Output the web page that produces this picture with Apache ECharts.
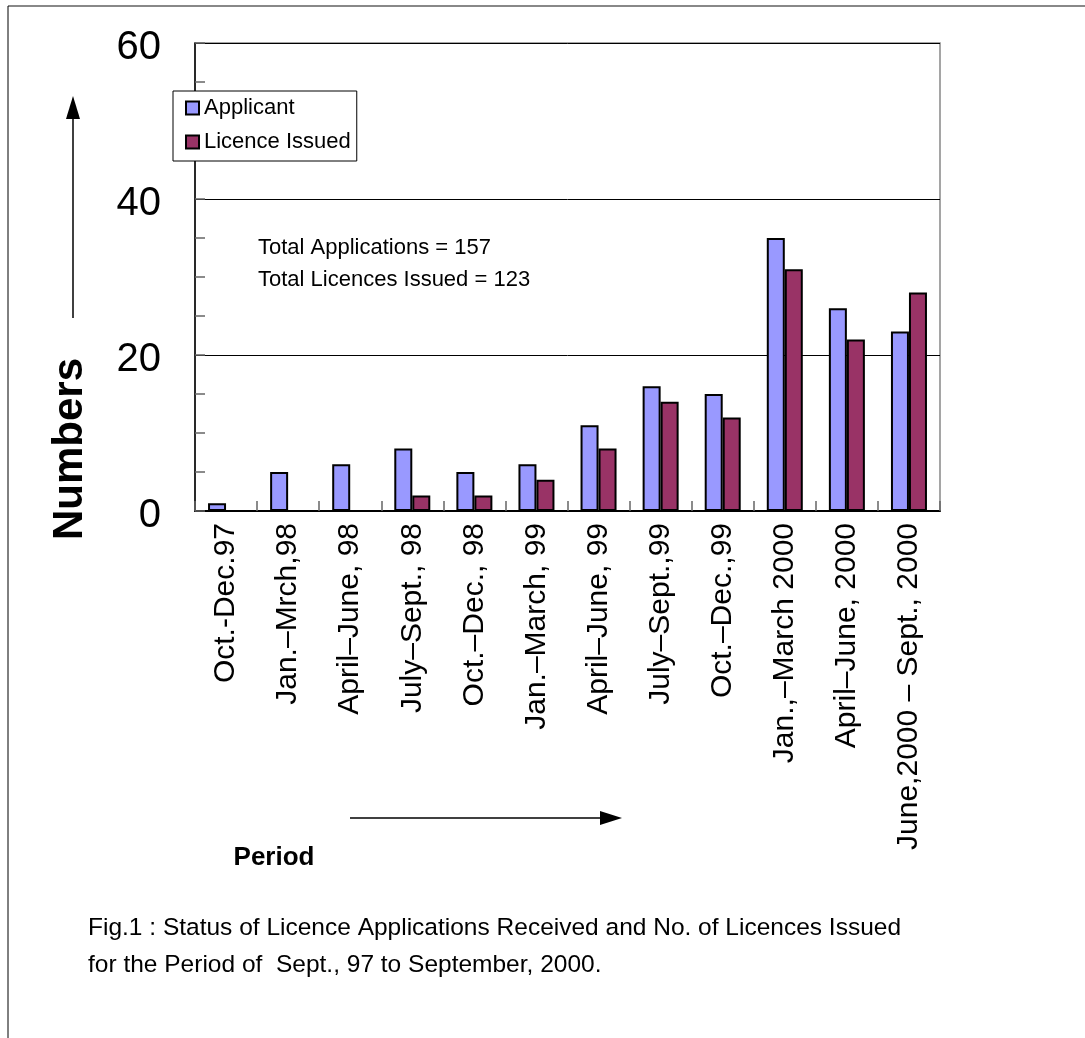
<!DOCTYPE html>
<html>
<head>
<meta charset="utf-8">
<script src="https://cdn.jsdelivr.net/npm/echarts@6/dist/echarts.min.js"></script>
<style>
html,body{margin:0;padding:0;background:#fff;}
#chart{width:1085px;height:1038px;}
</style>
</head>
<body>
<div id="chart"></div>
<script>
const categories = ['Oct.-Dec.97', 'Jan.–Mrch,98', 'April–June, 98', 'July–Sept., 98', 'Oct.–Dec., 98', 'Jan.–March, 99', 'April–June, 99', 'July–Sept.,99', 'Oct.–Dec.,99', 'Jan.,–March 2000', 'April–June, 2000', 'June,2000 – Sept., 2000'];
const applicant = [1, 5, 6, 8, 5, 6, 11, 16, 15, 35, 26, 23];
const licenceIssued = [0, 0, 0, 2, 2, 4, 8, 14, 12, 31, 22, 28];
const seriesNames = ['Applicant', 'Licence Issued'];
const totalsText = ['Total Applications = 157', 'Total Licences Issued = 123'];
const captionLines = ['Fig.1 : Status of Licence Applications Received and No. of Licences Issued', 'for the Period of  Sept., 97 to September, 2000.'];
const yTitle = 'Numbers';
const xTitle = 'Period';

const FONT = '"Liberation Sans", Arial, sans-serif';
const chart = echarts.init(document.getElementById('chart'), null, {renderer: 'canvas'});

const option = {
  backgroundColor: '#fff',
  animation: false,
  textStyle: {fontFamily: FONT},
  grid: {left: 195, right: 145, top: 43, bottom: 527, show: true, borderColor: '#888', borderWidth: 1.5, outerBoundsMode: 'none'},
  legend: {
    orient: 'vertical', left: 173, top: 91,
    padding: [6, 6, 8, 12], itemGap: 12,
    itemWidth: 13, itemHeight: 13, icon: 'rect',
    backgroundColor: '#fff', borderColor: '#000', borderWidth: 1,
    textStyle: {fontSize: 22, color: '#000', fontFamily: FONT},
    data: seriesNames
  },
  xAxis: {
    type: 'category', data: categories,
    axisLine: {lineStyle: {color: '#000', width: 2}},
    axisTick: {show: true, inside: true, length: 10, lineStyle: {color: '#666', width: 1.5}},
    axisLabel: {rotate: 90, fontSize: 30, color: '#000', margin: 12, fontFamily: FONT, interval: 0}
  },
  yAxis: {
    type: 'value', min: 0, max: 60, interval: 20,
    axisLine: {show: true, lineStyle: {color: '#000', width: 1.5}},
    axisTick: {show: true, inside: true, length: 10, lineStyle: {color: '#666', width: 1.5}},
    minorTick: {show: true, splitNumber: 4, length: 10, lineStyle: {color: '#666', width: 1.5}},
    splitLine: {show: true, lineStyle: {color: '#000', width: 1}},
    axisLabel: {fontSize: 40, color: '#000', margin: 34, fontFamily: FONT, verticalAlign: 'top', lineHeight: 10}
  },
  series: [
    {name: seriesNames[0], type: 'bar', data: applicant, barWidth: 18, barGap: '0%',
     itemStyle: {color: '#9999FF', borderColor: '#000', borderWidth: 2}},
    {name: seriesNames[1], type: 'bar', data: licenceIssued, barWidth: 18,
     itemStyle: {color: '#993366', borderColor: '#000', borderWidth: 2}}
  ],
  graphic: [
    {type: 'line', shape: {x1: 8, y1: 6, x2: 1085, y2: 6}, style: {stroke: '#888', lineWidth: 2}},
    {type: 'line', shape: {x1: 8, y1: 6, x2: 8, y2: 1038}, style: {stroke: '#000', lineWidth: 1}},
    {type: 'line', shape: {x1: 73, y1: 318, x2: 73, y2: 115}, style: {stroke: '#000', lineWidth: 1.5}},
    {type: 'polygon', shape: {points: [[73, 96], [66, 119], [80, 119]]}, style: {fill: '#000'}},
    {type: 'line', shape: {x1: 350, y1: 818, x2: 605, y2: 818}, style: {stroke: '#000', lineWidth: 1.5}},
    {type: 'polygon', shape: {points: [[622, 818], [600, 811], [600, 825]]}, style: {fill: '#000'}},
    {type: 'text', x: 70, y: 449, rotation: Math.PI / 2,
     style: {text: yTitle, font: 'bold 42px ' + FONT, fill: '#000', textAlign: 'center', textVerticalAlign: 'middle'}},
    {type: 'text', x: 274, y: 858,
     style: {text: xTitle, font: 'bold 26px ' + FONT, fill: '#000', textAlign: 'center', textVerticalAlign: 'middle'}},
    {type: 'text', x: 258, y: 248,
     style: {text: totalsText[0], font: '22px ' + FONT, fill: '#000', textAlign: 'left', textVerticalAlign: 'middle'}},
    {type: 'text', x: 258, y: 280,
     style: {text: totalsText[1], font: '22px ' + FONT, fill: '#000', textAlign: 'left', textVerticalAlign: 'middle'}},
    {type: 'text', x: 88, y: 928,
     style: {text: captionLines[0], font: '24.5px ' + FONT, fill: '#000', textAlign: 'left', textVerticalAlign: 'middle'}},
    {type: 'text', x: 88, y: 965,
     style: {text: captionLines[1], font: '24.5px ' + FONT, fill: '#000', textAlign: 'left', textVerticalAlign: 'middle'}}
  ]
};
chart.setOption(option);
</script>
</body>
</html>
